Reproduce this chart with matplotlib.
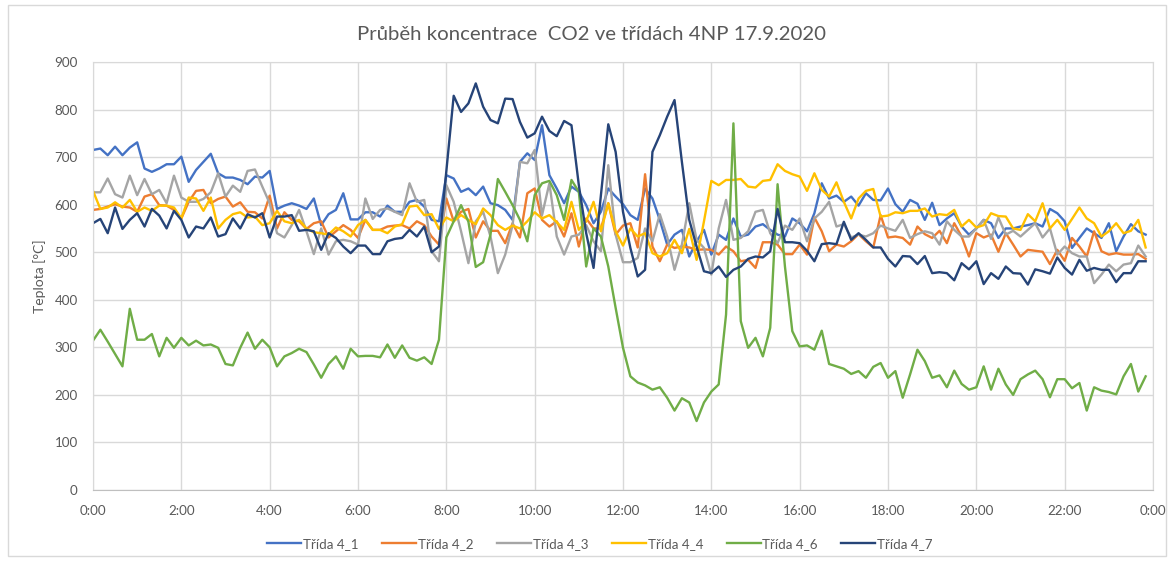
import numpy as np
import matplotlib.pyplot as plt
from matplotlib.patches import Rectangle

plt.rcParams['font.family'] = ['Lato', 'DejaVu Sans']

# mereni kazdych 10 minut, 0:00 .. 23:50
cas = np.arange(144) / 6.0

trida_4_1 = [715, 718, 704, 722, 704, 720, 731, 676, 669, 676, 685, 685,
             701, 648, 673, 690, 707, 666, 657, 657, 652, 643, 659, 657,
             671, 591, 598, 603, 598, 591, 613, 557, 580, 589, 624, 569,
             569, 584, 584, 575, 598, 585, 585, 606, 610, 596, 568, 565,
             662, 655, 627, 634, 620, 638, 603, 599, 589, 568, 690, 708,
             694, 767, 662, 634, 603, 638, 627, 599, 561, 585, 634, 617,
             601, 578, 568, 634, 613, 568, 516, 537, 547, 491, 523, 547,
             495, 537, 526, 571, 533, 537, 554, 559, 547, 537, 533, 571,
             561, 544, 582, 645, 613, 619, 606, 617, 598, 624, 610, 609,
             634, 601, 585, 610, 602, 568, 604, 557, 571, 582, 554, 537,
             550, 568, 561, 530, 550, 550, 554, 557, 561, 554, 591, 582,
             565, 509, 530, 550, 540, 530, 561, 502, 533, 559, 544, 537]

trida_4_2 = [589, 591, 596, 601, 596, 594, 585, 617, 622, 599, 598, 589,
             571, 606, 629, 631, 603, 612, 617, 596, 605, 585, 584, 571,
             619, 550, 584, 568, 565, 549, 561, 565, 531, 544, 557, 547,
             530, 568, 547, 547, 554, 556, 557, 550, 565, 557, 533, 516,
             613, 565, 585, 591, 531, 565, 545, 545, 519, 561, 531, 624,
             634, 568, 554, 565, 533, 582, 512, 571, 550, 550, 603, 537,
             556, 561, 510, 664, 512, 481, 516, 509, 512, 510, 505, 506,
             505, 495, 512, 502, 481, 484, 467, 521, 521, 516, 496, 496,
             516, 495, 573, 544, 502, 516, 512, 523, 538, 523, 510, 578,
             531, 533, 530, 516, 554, 538, 530, 545, 519, 561, 533, 491,
             540, 531, 537, 501, 540, 516, 491, 505, 503, 501, 475, 505,
             482, 530, 512, 491, 544, 502, 495, 498, 495, 495, 496, 486]

trida_4_3 = [626, 626, 655, 622, 615, 661, 620, 654, 622, 631, 603, 661,
             615, 606, 606, 612, 626, 666, 617, 640, 627, 671, 674, 638,
             603, 540, 531, 557, 589, 544, 496, 550, 495, 523, 526, 523,
             516, 613, 570, 589, 592, 585, 578, 645, 606, 610, 502, 481,
             641, 606, 544, 477, 565, 585, 533, 456, 495, 557, 690, 687,
             715, 578, 645, 533, 495, 533, 537, 557, 523, 502, 683, 537,
             479, 479, 488, 550, 523, 580, 533, 463, 516, 603, 526, 509,
             453, 550, 610, 526, 530, 544, 585, 589, 540, 519, 556, 547,
             571, 523, 571, 585, 606, 554, 559, 531, 537, 533, 540, 556,
             550, 545, 568, 530, 538, 544, 540, 516, 565, 547, 533, 533,
             550, 568, 528, 573, 537, 545, 533, 547, 561, 531, 550, 495,
             512, 498, 491, 491, 435, 453, 474, 460, 474, 477, 514, 491]

trida_4_4 = [629, 591, 594, 605, 594, 610, 585, 594, 587, 598, 598, 594,
             571, 615, 613, 587, 615, 550, 568, 580, 584, 573, 575, 557,
             561, 587, 565, 561, 568, 550, 542, 540, 537, 552, 544, 533,
             557, 568, 547, 547, 540, 554, 559, 596, 598, 578, 580, 549,
             573, 565, 578, 568, 559, 592, 578, 557, 547, 556, 550, 565,
             584, 571, 578, 563, 547, 606, 547, 565, 606, 544, 603, 544,
             514, 550, 533, 540, 498, 491, 498, 526, 498, 549, 484, 565,
             650, 641, 652, 652, 654, 638, 636, 650, 652, 685, 671, 664,
             659, 629, 666, 631, 617, 647, 606, 571, 613, 629, 633, 575,
             577, 584, 582, 587, 587, 592, 575, 580, 578, 589, 554, 568,
             552, 557, 582, 576, 575, 550, 547, 580, 565, 603, 550, 568,
             547, 570, 594, 571, 561, 533, 544, 561, 540, 545, 568, 510]

trida_4_6 = [314, 337, 312, 286, 260, 381, 316, 316, 328, 281, 320, 299,
             320, 304, 314, 304, 306, 299, 265, 262, 299, 331, 297, 316,
             300, 260, 281, 288, 297, 290, 264, 236, 265, 281, 255, 297,
             281, 282, 282, 279, 306, 278, 304, 278, 272, 279, 265, 316,
             531, 565, 599, 564, 469, 479, 537, 654, 627, 599, 568, 523,
             620, 645, 650, 620, 568, 652, 627, 470, 550, 533, 470, 383,
             299, 239, 226, 220, 211, 216, 194, 167, 193, 184, 145, 184,
             207, 222, 369, 771, 355, 299, 320, 281, 341, 643, 470, 334,
             302, 304, 295, 335, 265, 260, 255, 244, 250, 236, 259, 267,
             236, 250, 194, 243, 295, 271, 236, 241, 216, 251, 223, 211,
             216, 260, 211, 255, 222, 200, 233, 243, 251, 233, 195, 233,
             233, 214, 225, 167, 216, 209, 206, 201, 239, 265, 207, 239]

trida_4_7 = [561, 570, 540, 594, 549, 568, 582, 554, 591, 577, 550, 587,
             568, 531, 554, 550, 573, 533, 538, 571, 550, 580, 573, 582,
             531, 575, 575, 578, 545, 547, 544, 505, 540, 530, 512, 498,
             514, 514, 496, 496, 523, 528, 530, 547, 533, 554, 500, 512,
             670, 829, 795, 813, 855, 806, 778, 771, 823, 822, 774, 741,
             750, 785, 755, 744, 776, 767, 641, 540, 467, 620, 769, 711,
             585, 509, 449, 463, 711, 746, 785, 820, 690, 568, 512, 460,
             456, 470, 448, 463, 470, 486, 491, 489, 502, 591, 521, 521,
             519, 503, 481, 517, 519, 517, 564, 526, 540, 526, 510, 510,
             486, 470, 492, 491, 475, 492, 456, 458, 456, 441, 477, 464,
             481, 433, 456, 444, 470, 456, 455, 432, 464, 460, 455, 489,
             467, 453, 484, 461, 467, 463, 463, 437, 456, 456, 481, 481]

serie = [trida_4_1, trida_4_2, trida_4_3, trida_4_4, trida_4_6, trida_4_7]
nazvy = ["Třída 4_1", "Třída 4_2", "Třída 4_3", "Třída 4_4", "Třída 4_6", "Třída 4_7"]
barvy = ["#4472C4", "#ED7D31", "#A5A5A5", "#FFC000", "#70AD47", "#264478"]

x_ticks = np.arange(0, 25, 2)
x_labels = [f"{h % 24}:00" for h in x_ticks]

fig = plt.figure(figsize=(11.74, 5.62), dpi=100)
ax = fig.add_axes([93/1174, 1 - 490/562, 1060/1174, 428/562])

# ramecek grafu
fig.patches.append(Rectangle((8/1174, 1 - 556/562), 1158/1174, 551/562,
                             transform=fig.transFigure, fill=False,
                             edgecolor="#D9D9D9", lw=1))

for y, nazev, c in zip(serie, nazvy, barvy):
    ax.plot(cas, y, color=c, lw=1.7, label=nazev, solid_joinstyle="round")

ax.set_xlim(0, 24)
ax.set_ylim(0, 900)
ax.set_xticks(x_ticks)
ax.set_xticklabels(x_labels)
ax.set_yticks(np.arange(0, 901, 100))
ax.grid(True, color="#D9D9D9", lw=1)
ax.set_axisbelow(True)
for s in ax.spines.values():
    s.set_color("#D9D9D9")
ax.spines["bottom"].set_color("#BFBFBF")
ax.tick_params(length=0, labelsize=9.6, colors="#595959")
ax.tick_params(axis="x", pad=11)
ax.tick_params(axis="y", pad=11)

ax.set_ylabel("Teplota [°C]", fontsize=10, color="#595959", labelpad=6)
fig.text(592/1174, 1 - 34/562, "Průběh koncentrace  CO2 ve třídách 4NP 17.9.2020",
         ha="center", va="center", fontsize=14.7, color="#595959")

fig.legend(loc="center", bbox_to_anchor=(600/1174, 1 - 544/562), ncol=6,
           frameon=False, fontsize=9.6, handlelength=2.55, handletextpad=0.15,
           columnspacing=1.75, labelcolor="#595959")

fig.savefig("out.png", dpi=100)
